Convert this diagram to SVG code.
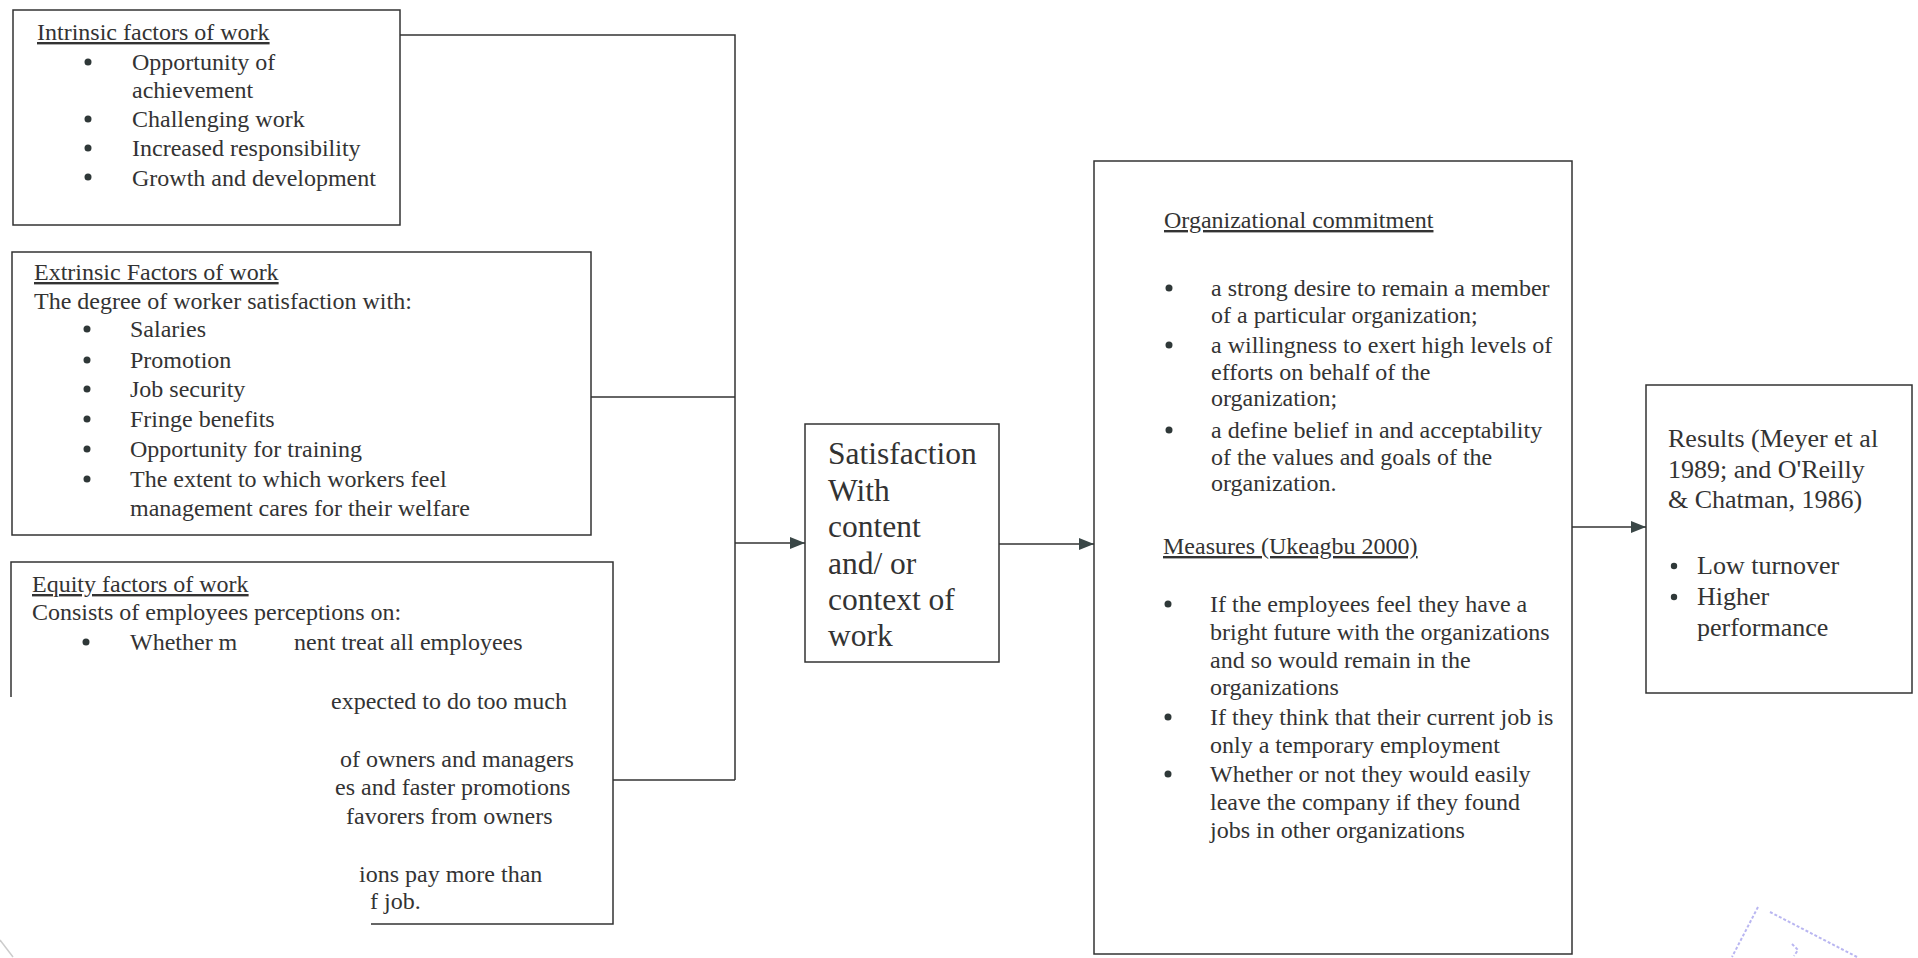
<svg xmlns="http://www.w3.org/2000/svg" width="1918" height="958" viewBox="0 0 1918 958">
<defs>
<marker id="arr" markerWidth="15" markerHeight="12" refX="15" refY="6" orient="auto" markerUnits="userSpaceOnUse"><path d="M0,0 L15,6 L0,12 z" fill="#3a4747"/></marker>
<style>
.box{fill:none;stroke:#333;stroke-width:1.5}
.t{font-family:"Liberation Serif","Times New Roman",serif;font-size:24px;fill:#333}
.u{text-decoration:underline}
.sat{font-size:31.5px}
.res{font-size:26px}
.dot{fill:#2f3838}
.c{fill:none;stroke:#333;stroke-width:1.5}
.stamp{fill:none;stroke:#8a86e8;stroke-width:2;stroke-dasharray:3 2;opacity:0.6}
</style>
</defs>
<rect width="1918" height="958" fill="#fff"/>

<g id="connectors">
<path class="c" d="M400,35 H735 V780"/>
<path class="c" d="M591,397 H735"/>
<path class="c" d="M613,780 H735"/>
<path class="c" d="M735,543 H805" marker-end="url(#arr)"/>
<path class="c" d="M999,544 H1094" marker-end="url(#arr)"/>
<path class="c" d="M1572,527 H1646" marker-end="url(#arr)"/>
</g>

<g id="intrinsic">
<rect class="box" x="13" y="10" width="387" height="215"/>
<text class="t u" x="37" y="40">Intrinsic factors of work</text>
<circle class="dot" cx="88" cy="62" r="3.5"/>
<circle class="dot" cx="88" cy="119" r="3.5"/>
<circle class="dot" cx="88" cy="148" r="3.5"/>
<circle class="dot" cx="88" cy="177" r="3.5"/>
<text class="t" x="132" y="70">Opportunity of</text>
<text class="t" x="132" y="98">achievement</text>
<text class="t" x="132" y="127">Challenging work</text>
<text class="t" x="132" y="156">Increased responsibility</text>
<text class="t" x="132" y="186">Growth and development</text>
</g>

<g id="extrinsic">
<rect class="box" x="12" y="252" width="579" height="283"/>
<text class="t u" x="34" y="280">Extrinsic Factors of work</text>
<text class="t" x="34" y="309">The degree of worker satisfaction with:</text>
<circle class="dot" cx="87" cy="329" r="3.5"/>
<circle class="dot" cx="87" cy="360" r="3.5"/>
<circle class="dot" cx="87" cy="389" r="3.5"/>
<circle class="dot" cx="87" cy="419" r="3.5"/>
<circle class="dot" cx="87" cy="449" r="3.5"/>
<circle class="dot" cx="87" cy="479" r="3.5"/>
<text class="t" x="130" y="337">Salaries</text>
<text class="t" x="130" y="368">Promotion</text>
<text class="t" x="130" y="397">Job security</text>
<text class="t" x="130" y="427">Fringe benefits</text>
<text class="t" x="130" y="457">Opportunity for training</text>
<text class="t" x="130" y="487">The extent to which workers feel</text>
<text class="t" x="130" y="516">management cares for their welfare</text>
</g>

<g id="equity">
<path class="box" d="M11,697 V562 H613 V924 H371"/>
<text class="t u" x="32" y="592">Equity factors of work</text>
<text class="t" x="32" y="620">Consists of employees perceptions on:</text>
<circle class="dot" cx="86" cy="642" r="3.5"/>
<text class="t" x="130" y="650">Whether m</text>
<text class="t" x="294" y="650">nent treat all employees</text>
<text class="t" x="331" y="709">expected to do too much</text>
<text class="t" x="340" y="767">of owners and managers</text>
<text class="t" x="335" y="795">es and faster promotions</text>
<text class="t" x="346" y="824">favorers from owners</text>
<text class="t" x="359" y="882">ions pay more than</text>
<text class="t" x="370" y="909">f job.</text>
</g>

<g id="satisfaction">
<rect class="box" x="805" y="424" width="194" height="238"/>
<text class="t sat" x="828" y="464">Satisfaction</text>
<text class="t sat" x="828" y="500.5">With</text>
<text class="t sat" x="828" y="537">content</text>
<text class="t sat" x="828" y="573.5">and/ or</text>
<text class="t sat" x="828" y="610">context of</text>
<text class="t sat" x="828" y="646">work</text>
</g>

<g id="commitment">
<rect class="box" x="1094" y="161" width="478" height="793"/>
<text class="t u" x="1164" y="228">Organizational commitment</text>
<circle class="dot" cx="1169" cy="288" r="3.5"/>
<circle class="dot" cx="1169" cy="345" r="3.5"/>
<circle class="dot" cx="1169" cy="430" r="3.5"/>
<text class="t" x="1211" y="296">a strong desire to remain a member</text>
<text class="t" x="1211" y="323">of a particular organization;</text>
<text class="t" x="1211" y="353">a willingness to exert high levels of</text>
<text class="t" x="1211" y="380">efforts on behalf of the</text>
<text class="t" x="1211" y="406">organization;</text>
<text class="t" x="1211" y="438">a define belief in and acceptability</text>
<text class="t" x="1211" y="465">of the values and goals of the</text>
<text class="t" x="1211" y="491">organization.</text>
<text class="t u" x="1163" y="554">Measures (Ukeagbu 2000)</text>
<circle class="dot" cx="1168" cy="604" r="3.5"/>
<circle class="dot" cx="1168" cy="717" r="3.5"/>
<circle class="dot" cx="1168" cy="774" r="3.5"/>
<text class="t" x="1210" y="612">If the employees feel they have a</text>
<text class="t" x="1210" y="640">bright future with the organizations</text>
<text class="t" x="1210" y="668">and so would remain in the</text>
<text class="t" x="1210" y="695">organizations</text>
<text class="t" x="1210" y="725">If they think that their current job is</text>
<text class="t" x="1210" y="753">only a temporary employment</text>
<text class="t" x="1210" y="782">Whether or not they would easily</text>
<text class="t" x="1210" y="810">leave the company if they found</text>
<text class="t" x="1210" y="838">jobs in other organizations</text>
</g>

<g id="results">
<rect class="box" x="1646" y="385" width="266" height="308"/>
<text class="t res" x="1668" y="447">Results (Meyer et al</text>
<text class="t res" x="1668" y="478">1989; and O'Reilly</text>
<text class="t res" x="1668" y="508">&amp; Chatman, 1986)</text>
<circle class="dot" cx="1674" cy="566" r="3.2"/>
<circle class="dot" cx="1674" cy="597" r="3.2"/>
<text class="t res" x="1697" y="574">Low turnover</text>
<text class="t res" x="1697" y="605">Higher</text>
<text class="t res" x="1697" y="636">performance</text>
</g>

<g id="stamp">
<path class="stamp" d="M1758,907 L1732,957"/>
<path class="stamp" d="M1770,912 L1857,957"/>
<path class="stamp" d="M1792,944 l6,6 l-4,6"/>
<path d="M0,940 L13,957" fill="none" stroke="#ccc" stroke-width="1.5"/>
</g>
</svg>
